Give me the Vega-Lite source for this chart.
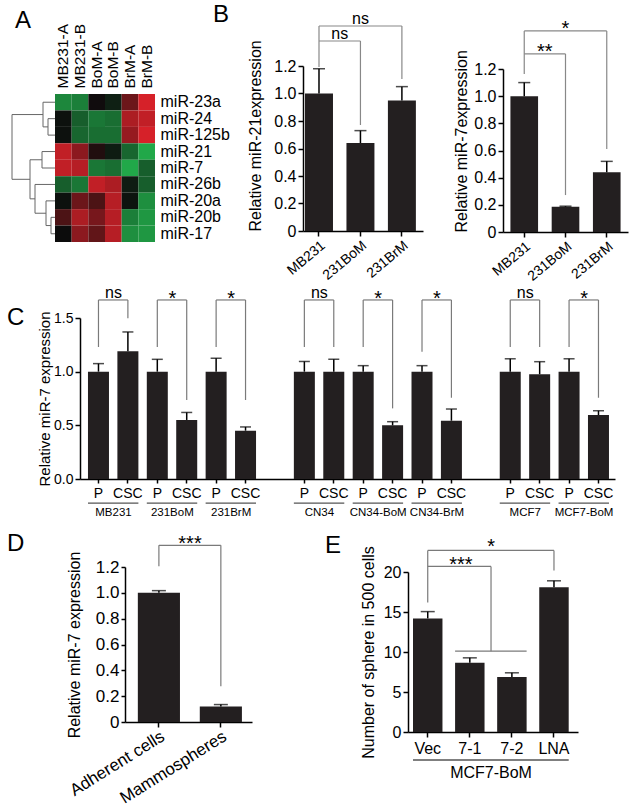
{
"$schema": "https://vega.github.io/schema/vega-lite/v6.json",
"background": "white",
"padding": {"left": 7, "top": 3, "right": 2, "bottom": 2},
"spacing": 0,
"config": {
  "font": "Liberation Sans",
  "view": {"stroke": null},
  "axis": {"grid": false, "domainColor": "#000", "tickColor": "#000", "labelColor": "#000", "titleColor": "#000", "domainWidth": 1.5, "tickWidth": 1.5, "tickSize": 5, "labelFontSize": 15, "titleFontSize": 16, "titleFontWeight": "normal", "labelFont": "Liberation Sans", "titleFont": "Liberation Sans", "labelOverlap": false},
  "title": {"anchor": "start", "frame": "group", "fontSize": 24, "fontWeight": "normal", "baseline": "alphabetic", "color": "#000", "font": "Liberation Sans"},
  "text": {"font": "Liberation Sans", "color": "#000"}
},
"datasets": {
  "dendro": [
    {"h1": 7, "h2": 7, "r1": 1, "r2": 2}, {"h1": 0, "h2": 7, "r1": 1, "r2": 1}, {"h1": 0, "h2": 7, "r1": 2, "r2": 2},
    {"h1": 12, "h2": 12, "r1": 0, "r2": 1.5}, {"h1": 0, "h2": 12, "r1": 0, "r2": 0}, {"h1": 7, "h2": 12, "r1": 1.5, "r2": 1.5},
    {"h1": 13, "h2": 13, "r1": 3, "r2": 4}, {"h1": 0, "h2": 13, "r1": 3, "r2": 3}, {"h1": 0, "h2": 13, "r1": 4, "r2": 4},
    {"h1": 4, "h2": 4, "r1": 7, "r2": 8}, {"h1": 0, "h2": 4, "r1": 7, "r2": 7}, {"h1": 0, "h2": 4, "r1": 8, "r2": 8},
    {"h1": 9, "h2": 9, "r1": 6, "r2": 7.5}, {"h1": 0, "h2": 9, "r1": 6, "r2": 6}, {"h1": 4, "h2": 9, "r1": 7.5, "r2": 7.5},
    {"h1": 20, "h2": 20, "r1": 5, "r2": 6.75}, {"h1": 0, "h2": 20, "r1": 5, "r2": 5}, {"h1": 9, "h2": 20, "r1": 6.75, "r2": 6.75},
    {"h1": 25, "h2": 25, "r1": 3.5, "r2": 5.875}, {"h1": 13, "h2": 25, "r1": 3.5, "r2": 3.5}, {"h1": 20, "h2": 25, "r1": 5.875, "r2": 5.875},
    {"h1": 43, "h2": 43, "r1": 0.75, "r2": 4.6875}, {"h1": 12, "h2": 43, "r1": 0.75, "r2": 0.75}, {"h1": 25, "h2": 43, "r1": 4.6875, "r2": 4.6875}
  ],
  "heat": [
    {"mirna": "miR-23a", "sample": "MB231-A", "z": -0.75}, {"mirna": "miR-23a", "sample": "MB231-B", "z": -0.7}, {"mirna": "miR-23a", "sample": "BoM-A", "z": 0.02}, {"mirna": "miR-23a", "sample": "BoM-B", "z": -0.12}, {"mirna": "miR-23a", "sample": "BrM-A", "z": 0.45}, {"mirna": "miR-23a", "sample": "BrM-B", "z": 0.95},
    {"mirna": "miR-24", "sample": "MB231-A", "z": -0.03}, {"mirna": "miR-24", "sample": "MB231-B", "z": -0.5}, {"mirna": "miR-24", "sample": "BoM-A", "z": -0.65}, {"mirna": "miR-24", "sample": "BoM-B", "z": -0.6}, {"mirna": "miR-24", "sample": "BrM-A", "z": 0.75}, {"mirna": "miR-24", "sample": "BrM-B", "z": 0.85},
    {"mirna": "miR-125b", "sample": "MB231-A", "z": -0.03}, {"mirna": "miR-125b", "sample": "MB231-B", "z": -0.55}, {"mirna": "miR-125b", "sample": "BoM-A", "z": -0.6}, {"mirna": "miR-125b", "sample": "BoM-B", "z": -0.6}, {"mirna": "miR-125b", "sample": "BrM-A", "z": 0.65}, {"mirna": "miR-125b", "sample": "BrM-B", "z": 0.95},
    {"mirna": "miR-21", "sample": "MB231-A", "z": 0.85}, {"mirna": "miR-21", "sample": "MB231-B", "z": 0.6}, {"mirna": "miR-21", "sample": "BoM-A", "z": 0.1}, {"mirna": "miR-21", "sample": "BoM-B", "z": -0.1}, {"mirna": "miR-21", "sample": "BrM-A", "z": -0.55}, {"mirna": "miR-21", "sample": "BrM-B", "z": -0.95},
    {"mirna": "miR-7", "sample": "MB231-A", "z": 0.85}, {"mirna": "miR-7", "sample": "MB231-B", "z": 0.8}, {"mirna": "miR-7", "sample": "BoM-A", "z": -0.65}, {"mirna": "miR-7", "sample": "BoM-B", "z": -0.6}, {"mirna": "miR-7", "sample": "BrM-A", "z": -0.95}, {"mirna": "miR-7", "sample": "BrM-B", "z": -0.5},
    {"mirna": "miR-26b", "sample": "MB231-A", "z": -0.5}, {"mirna": "miR-26b", "sample": "MB231-B", "z": -0.65}, {"mirna": "miR-26b", "sample": "BoM-A", "z": 0.85}, {"mirna": "miR-26b", "sample": "BoM-B", "z": 0.75}, {"mirna": "miR-26b", "sample": "BrM-A", "z": -0.1}, {"mirna": "miR-26b", "sample": "BrM-B", "z": -0.5},
    {"mirna": "miR-20a", "sample": "MB231-A", "z": -0.03}, {"mirna": "miR-20a", "sample": "MB231-B", "z": 0.45}, {"mirna": "miR-20a", "sample": "BoM-A", "z": 0.3}, {"mirna": "miR-20a", "sample": "BoM-B", "z": 0.8}, {"mirna": "miR-20a", "sample": "BrM-A", "z": -0.05}, {"mirna": "miR-20a", "sample": "BrM-B", "z": -0.8},
    {"mirna": "miR-20b", "sample": "MB231-A", "z": 0.3}, {"mirna": "miR-20b", "sample": "MB231-B", "z": 0.75}, {"mirna": "miR-20b", "sample": "BoM-A", "z": 0.5}, {"mirna": "miR-20b", "sample": "BoM-B", "z": 0.8}, {"mirna": "miR-20b", "sample": "BrM-A", "z": -0.7}, {"mirna": "miR-20b", "sample": "BrM-B", "z": -0.85},
    {"mirna": "miR-17", "sample": "MB231-A", "z": 0.0}, {"mirna": "miR-17", "sample": "MB231-B", "z": 0.6}, {"mirna": "miR-17", "sample": "BoM-A", "z": 0.4}, {"mirna": "miR-17", "sample": "BoM-B", "z": 0.8}, {"mirna": "miR-17", "sample": "BrM-A", "z": -0.8}, {"mirna": "miR-17", "sample": "BrM-B", "z": -0.85}
  ],
  "cbars": [
    {"slot": "MB231|P", "value": 1.0, "err": 1.075}, {"slot": "MB231|CSC", "value": 1.19, "err": 1.37},
    {"slot": "231BoM|P", "value": 1.0, "err": 1.115}, {"slot": "231BoM|CSC", "value": 0.55, "err": 0.62},
    {"slot": "231BrM|P", "value": 1.0, "err": 1.125}, {"slot": "231BrM|CSC", "value": 0.45, "err": 0.485},
    {"slot": "CN34|P", "value": 1.0, "err": 1.095}, {"slot": "CN34|CSC", "value": 1.0, "err": 1.115},
    {"slot": "CN34-BoM|P", "value": 1.0, "err": 1.056}, {"slot": "CN34-BoM|CSC", "value": 0.5, "err": 0.534},
    {"slot": "CN34-BrM|P", "value": 1.0, "err": 1.056}, {"slot": "CN34-BrM|CSC", "value": 0.543, "err": 0.652},
    {"slot": "MCF7|P", "value": 1.0, "err": 1.12}, {"slot": "MCF7|CSC", "value": 0.976, "err": 1.093},
    {"slot": "MCF7-BoM|P", "value": 1.0, "err": 1.12}, {"slot": "MCF7-BoM|CSC", "value": 0.596, "err": 0.636}
  ],
  "cbr": [
    {"g": "MB231", "p": "MB231|P", "c": "MB231|CSC", "label": "ns", "top": 1.668, "lp": 1.23, "rc": 1.497},
    {"g": "231BoM", "p": "231BoM|P", "c": "231BoM|CSC", "label": "*", "top": 1.668, "lp": 1.23, "rc": 0.736},
    {"g": "231BrM", "p": "231BrM|P", "c": "231BrM|CSC", "label": "*", "top": 1.668, "lp": 1.23, "rc": 0.736},
    {"g": "CN34", "p": "CN34|P", "c": "CN34|CSC", "label": "ns", "top": 1.668, "lp": 1.23, "rc": 1.23},
    {"g": "CN34-BoM", "p": "CN34-BoM|P", "c": "CN34-BoM|CSC", "label": "*", "top": 1.668, "lp": 1.23, "rc": 0.658},
    {"g": "CN34-BrM", "p": "CN34-BrM|P", "c": "CN34-BrM|CSC", "label": "*", "top": 1.668, "lp": 1.186, "rc": 0.757},
    {"g": "MCF7", "p": "MCF7|P", "c": "MCF7|CSC", "label": "ns", "top": 1.668, "lp": 1.23, "rc": 1.23},
    {"g": "MCF7-BoM", "p": "MCF7-BoM|P", "c": "MCF7-BoM|CSC", "label": "*", "top": 1.668, "lp": 1.23, "rc": 0.757}
  ]
},
"vconcat": [
 {
  "hconcat": [
  {
    "width": 43, "height": 148,
    "title": {"text": "A", "dx": 3, "offset": 61},
    "data": {"name": "dendro"},
    "mark": {"type": "rule", "color": "#666666", "strokeWidth": 1},
    "encoding": {
      "x": {"field": "h1", "type": "quantitative", "scale": {"domain": [0, 43], "reverse": true, "nice": false, "zero": false}, "axis": null},
      "x2": {"field": "h2"},
      "y": {"field": "r1", "type": "quantitative", "scale": {"domain": [-0.5, 8.5], "reverse": true, "nice": false, "zero": false}, "axis": null},
      "y2": {"field": "r2"}
    }
  },
  {
    "width": 100, "height": 148,
    "data": {"name": "heat"},
    "mark": "rect",
    "encoding": {
      "x": {"field": "sample", "type": "nominal", "sort": ["MB231-A", "MB231-B", "BoM-A", "BoM-B", "BrM-A", "BrM-B"], "scale": {"paddingInner": 0, "paddingOuter": 0},
            "axis": {"orient": "top", "title": null, "labelAngle": -90, "labelAlign": "left", "labelBaseline": "middle", "domain": false, "ticks": false, "labelPadding": 6, "labelFontSize": 15.5}},
      "y": {"field": "mirna", "type": "nominal", "sort": ["miR-23a", "miR-24", "miR-125b", "miR-21", "miR-7", "miR-26b", "miR-20a", "miR-20b", "miR-17"], "scale": {"paddingInner": 0, "paddingOuter": 0},
            "axis": {"orient": "right", "title": null, "domain": false, "ticks": false, "labelPadding": 5, "labelFontSize": 16}},
      "color": {"field": "z", "type": "quantitative", "scale": {"domain": [-1, 0, 1], "range": ["#22b04c", "#0c0c0c", "#e1222b"], "interpolate": "rgb"}, "legend": null}
    }
  },
  {"width": 148, "height": 1, "title": {"text": "B", "dx": 58, "offset": 67}, "data": {"values": []}, "mark": "point"},
  {
    "width": 120, "height": 137,
    "data": {"values": [{"cell": "MB231", "value": 1.0, "err": 1.18}, {"cell": "231BoM", "value": 0.64, "err": 0.73}, {"cell": "231BrM", "value": 0.95, "err": 1.05}]},
    "layer": [
      {"mark": {"type": "bar", "color": "#231f20"},
       "encoding": {
         "x": {"field": "cell", "type": "nominal", "scale": {"domain": ["MB231", "231BoM", "231BrM"], "paddingInner": 0.325, "paddingOuter": 0.11, "align": 0.22}, "axis": {"title": null, "labelAngle": -40, "labelPadding": 2, "labelFontSize": 14}},
         "y": {"field": "value", "type": "quantitative", "scale": {"domain": [0, 1.2], "range": [137, -28], "nice": false},
               "axis": {"title": "Relative miR-21expression", "values": [0, 0.2, 0.4, 0.6, 0.8, 1, 1.2], "tickCount": 20, "labelExpr": "datum.value == 0 ? '0' : format(datum.value, '.1f')", "labelOverlap": false, "titleAnchor": "start", "titlePadding": 10, "labelFontSize": 16}}}},
      {"mark": {"type": "rule", "color": "#000", "strokeWidth": 1.5},
       "encoding": {"x": {"field": "cell", "type": "nominal"}, "y": {"field": "value", "type": "quantitative"}, "y2": {"field": "err"}}},
      {"mark": {"type": "tick", "color": "#000", "thickness": 1.5, "size": 12},
       "encoding": {"x": {"field": "cell", "type": "nominal"}, "y": {"field": "err", "type": "quantitative"}}},
      {"data": {"values": [{"cell": "MB231", "lo": 1.193, "hi": 1.491}, {"cell": "231BoM", "lo": 0.771, "hi": 1.382}, {"cell": "231BrM", "lo": 1.105, "hi": 1.491}]},
       "mark": {"type": "rule", "color": "#888888", "strokeWidth": 1.2},
       "encoding": {"x": {"field": "cell", "type": "nominal"}, "y": {"field": "lo", "type": "quantitative"}, "y2": {"field": "hi"}}},
      {"data": {"values": [{"cell": "MB231", "to": "231BoM", "hi": 1.382}, {"cell": "MB231", "to": "231BrM", "hi": 1.491}]},
       "mark": {"type": "rule", "color": "#888888", "strokeWidth": 1.2},
       "encoding": {"x": {"field": "cell", "type": "nominal", "bandPosition": 0.5}, "x2": {"field": "to", "bandPosition": 0.5}, "y": {"field": "hi", "type": "quantitative"}}},
      {"data": {"values": [{"cell": "MB231", "hi": 1.382, "label": "ns"}]},
       "mark": {"type": "text", "fontSize": 16, "dy": -2, "baseline": "alphabetic"},
       "encoding": {"x": {"field": "cell", "type": "nominal", "bandPosition": 1.24}, "y": {"field": "hi", "type": "quantitative"}, "text": {"field": "label"}}},
      {"data": {"values": [{"cell": "231BoM", "hi": 1.491, "label": "ns"}]},
       "mark": {"type": "text", "fontSize": 16, "dy": -2, "baseline": "alphabetic"},
       "encoding": {"x": {"field": "cell", "type": "nominal", "bandPosition": 0.5}, "y": {"field": "hi", "type": "quantitative"}, "text": {"field": "label"}}}
    ]
  },
  {"width": 80, "height": 1, "data": {"values": []}, "mark": "point"},
  {
    "width": 125, "height": 138,
    "data": {"values": [{"cell": "MB231", "value": 1.0, "err": 1.1}, {"cell": "231BoM", "value": 0.185, "err": 0.19}, {"cell": "231BrM", "value": 0.44, "err": 0.52}]},
    "layer": [
      {"mark": {"type": "bar", "color": "#231f20"},
       "encoding": {
         "x": {"field": "cell", "type": "nominal", "scale": {"domain": ["MB231", "231BoM", "231BrM"], "paddingInner": 0.33, "paddingOuter": 0.18, "align": 0.5}, "axis": {"title": null, "labelAngle": -40, "labelPadding": 2, "labelFontSize": 14}},
         "y": {"field": "value", "type": "quantitative", "scale": {"domain": [0, 1.2], "range": [138, -25], "nice": false},
               "axis": {"title": "Relative miR-7expression", "values": [0, 0.2, 0.4, 0.6, 0.8, 1, 1.2], "tickCount": 20, "labelExpr": "datum.value == 0 ? '0' : format(datum.value, '.1f')", "labelOverlap": false, "titleAnchor": "start", "titlePadding": 4, "labelFontSize": 16}}}},
      {"mark": {"type": "rule", "color": "#000", "strokeWidth": 1.5},
       "encoding": {"x": {"field": "cell", "type": "nominal"}, "y": {"field": "value", "type": "quantitative"}, "y2": {"field": "err"}}},
      {"mark": {"type": "tick", "color": "#000", "thickness": 1.5, "size": 12},
       "encoding": {"x": {"field": "cell", "type": "nominal"}, "y": {"field": "err", "type": "quantitative"}}},
      {"data": {"values": [{"cell": "MB231", "lo": 1.163, "hi": 1.48}, {"cell": "231BoM", "lo": 0.272, "hi": 1.311}, {"cell": "231BrM", "lo": 0.611, "hi": 1.48}]},
       "mark": {"type": "rule", "color": "#888888", "strokeWidth": 1.2},
       "encoding": {"x": {"field": "cell", "type": "nominal"}, "y": {"field": "lo", "type": "quantitative"}, "y2": {"field": "hi"}}},
      {"data": {"values": [{"cell": "MB231", "to": "231BoM", "hi": 1.311}, {"cell": "MB231", "to": "231BrM", "hi": 1.48}]},
       "mark": {"type": "rule", "color": "#888888", "strokeWidth": 1.2},
       "encoding": {"x": {"field": "cell", "type": "nominal", "bandPosition": 0.5}, "x2": {"field": "to", "bandPosition": 0.5}, "y": {"field": "hi", "type": "quantitative"}}},
      {"data": {"values": [{"cell": "MB231", "hi": 1.311, "label": "**"}]},
       "mark": {"type": "text", "fontSize": 20, "dy": 4, "baseline": "alphabetic"},
       "encoding": {"x": {"field": "cell", "type": "nominal", "bandPosition": 1.245}, "y": {"field": "hi", "type": "quantitative"}, "text": {"field": "label"}}},
      {"data": {"values": [{"cell": "231BoM", "hi": 1.48, "label": "*"}]},
       "mark": {"type": "text", "fontSize": 20, "dy": 4, "baseline": "alphabetic"},
       "encoding": {"x": {"field": "cell", "type": "nominal", "bandPosition": 0.5}, "y": {"field": "hi", "type": "quantitative"}, "text": {"field": "label"}}}
    ]
  }
  ],
  "spacing": 0, "bounds": "flush"
 },
 {
  "vconcat": [
   {
    "hconcat": [
    {"width": 68, "height": 1, "title": {"text": "C", "dx": -5, "offset": -12}, "data": {"values": []}, "mark": "point"},
    {
    "width": 535, "height": 161,
    "data": {"name": "cbars"},
    "layer": [
      {"mark": {"type": "bar", "color": "#231f20"},
       "encoding": {
         "x": {"field": "slot", "type": "nominal",
               "scale": {"domain": ["MB231|P", "MB231|CSC", "231BoM|P", "231BoM|CSC", "231BrM|P", "231BrM|CSC", "gap1", "CN34|P", "CN34|CSC", "CN34-BoM|P", "CN34-BoM|CSC", "CN34-BrM|P", "CN34-BrM|CSC", "gap2", "MCF7|P", "MCF7|CSC", "MCF7-BoM|P", "MCF7-BoM|CSC"], "paddingInner": 0.286, "paddingOuter": 0.238, "align": 0.57},
               "axis": {"title": null, "values": ["MB231|P", "MB231|CSC", "231BoM|P", "231BoM|CSC", "231BrM|P", "231BrM|CSC", "CN34|P", "CN34|CSC", "CN34-BoM|P", "CN34-BoM|CSC", "CN34-BrM|P", "CN34-BrM|CSC", "MCF7|P", "MCF7|CSC", "MCF7-BoM|P", "MCF7-BoM|CSC"],
                        "labelExpr": "split(datum.value, '|')[1]", "labelAngle": 0, "labelFontSize": 14, "tickSize": 4, "labelPadding": 3}},
         "y": {"field": "value", "type": "quantitative", "scale": {"domain": [0, 1.5], "nice": false},
               "axis": {"title": "Relative miR-7 expression", "values": [0, 0.5, 1, 1.5], "tickCount": 20, "format": ".1f", "labelOverlap": false, "labelFontSize": 14, "titleFontSize": 15, "titlePadding": 1}}}},
      {"mark": {"type": "rule", "color": "#000", "strokeWidth": 1.5},
       "encoding": {"x": {"field": "slot", "type": "nominal"}, "y": {"field": "value", "type": "quantitative"}, "y2": {"field": "err"}}},
      {"mark": {"type": "tick", "color": "#000", "thickness": 1.5, "size": 11},
       "encoding": {"x": {"field": "slot", "type": "nominal"}, "y": {"field": "err", "type": "quantitative"}}},
      {"data": {"name": "cbr"}, "mark": {"type": "rule", "color": "#7a7a7a", "strokeWidth": 1.2},
       "encoding": {"x": {"field": "p", "type": "nominal"}, "y": {"field": "lp", "type": "quantitative"}, "y2": {"field": "top"}}},
      {"data": {"name": "cbr"}, "mark": {"type": "rule", "color": "#7a7a7a", "strokeWidth": 1.2},
       "encoding": {"x": {"field": "c", "type": "nominal"}, "y": {"field": "rc", "type": "quantitative"}, "y2": {"field": "top"}}},
      {"data": {"name": "cbr"}, "mark": {"type": "rule", "color": "#7a7a7a", "strokeWidth": 1.2},
       "encoding": {"x": {"field": "p", "type": "nominal", "bandPosition": 0.5}, "x2": {"field": "c", "bandPosition": 0.5}, "y": {"field": "top", "type": "quantitative"}}},
      {"data": {"name": "cbr"}, "transform": [{"filter": "datum.label == 'ns'"}],
       "mark": {"type": "text", "fontSize": 16, "dy": -2, "baseline": "alphabetic"},
       "encoding": {"x": {"field": "p", "type": "nominal", "bandPosition": 1.214}, "y": {"field": "top", "type": "quantitative"}, "text": {"field": "label"}}},
      {"data": {"name": "cbr"}, "transform": [{"filter": "datum.label != 'ns'"}],
       "mark": {"type": "text", "fontSize": 20, "dy": 5, "baseline": "alphabetic"},
       "encoding": {"x": {"field": "p", "type": "nominal", "bandPosition": 1.214}, "y": {"field": "top", "type": "quantitative"}, "text": {"field": "label"}}},
      {"data": {"name": "cbr"}, "mark": {"type": "rule", "color": "#555555", "strokeWidth": 1.2},
       "encoding": {"x": {"field": "p", "type": "nominal", "bandPosition": 0}, "x2": {"field": "c", "bandPosition": 1}, "y": {"datum": -0.224}}},
      {"data": {"name": "cbr"}, "mark": {"type": "text", "fontSize": 11.5, "baseline": "top"},
       "encoding": {"x": {"field": "p", "type": "nominal", "bandPosition": 1.214}, "y": {"datum": -0.26}, "text": {"field": "g"}}}
    ]
    }
    ],
    "spacing": 0, "bounds": "flush"
   },
   {
    "hconcat": [
    {"width": 113, "height": 1, "title": {"text": "D", "dx": -5, "offset": 2}, "data": {"values": []}, "mark": "point"},
    {
    "width": 127, "height": 164,
    "data": {"values": [{"cell": "Adherent cells", "value": 1.0, "err": 1.017}, {"cell": "Mammospheres", "value": 0.12, "err": 0.135}]},
    "layer": [
      {"mark": {"type": "bar", "color": "#231f20"},
       "encoding": {
         "x": {"field": "cell", "type": "nominal", "scale": {"domain": ["Adherent cells", "Mammospheres"], "paddingInner": 0.32, "paddingOuter": 0.185, "align": 0.56}, "axis": {"title": null, "labelAngle": -32, "labelPadding": 1, "labelFontSize": 17}},
         "y": {"field": "value", "type": "quantitative", "scale": {"domain": [0, 1.2], "range": [164, 9], "nice": false},
               "axis": {"title": "Relative miR-7 expression", "values": [0, 0.2, 0.4, 0.6, 0.8, 1, 1.2], "tickCount": 20, "labelExpr": "datum.value == 0 ? '0' : format(datum.value, '.1f')", "labelOverlap": false, "titlePadding": 13, "labelFontSize": 17, "tickSize": 4}}}},
      {"mark": {"type": "rule", "color": "#000", "strokeWidth": 1.5},
       "encoding": {"x": {"field": "cell", "type": "nominal"}, "y": {"field": "value", "type": "quantitative"}, "y2": {"field": "err"}}},
      {"mark": {"type": "tick", "color": "#000", "thickness": 1.5, "size": 14},
       "encoding": {"x": {"field": "cell", "type": "nominal"}, "y": {"field": "err", "type": "quantitative"}}},
      {"data": {"values": [{"cell": "Adherent cells", "lo": 1.205, "hi": 1.368}, {"cell": "Mammospheres", "lo": 0.276, "hi": 1.368}]},
       "mark": {"type": "rule", "color": "#7a7a7a", "strokeWidth": 1.2},
       "encoding": {"x": {"field": "cell", "type": "nominal"}, "y": {"field": "lo", "type": "quantitative"}, "y2": {"field": "hi"}}},
      {"data": {"values": [{"cell": "Adherent cells", "to": "Mammospheres", "hi": 1.368}]},
       "mark": {"type": "rule", "color": "#7a7a7a", "strokeWidth": 1.2},
       "encoding": {"x": {"field": "cell", "type": "nominal", "bandPosition": 0.5}, "x2": {"field": "to", "bandPosition": 0.5}, "y": {"field": "hi", "type": "quantitative"}}},
      {"data": {"values": [{"cell": "Adherent cells", "hi": 1.368, "label": "***"}]},
       "mark": {"type": "text", "fontSize": 20, "dy": 5, "baseline": "alphabetic"},
       "encoding": {"x": {"field": "cell", "type": "nominal", "bandPosition": 1.238}, "y": {"field": "hi", "type": "quantitative"}, "text": {"field": "label"}}}
    ]
    },
    {"width": 156, "height": 1, "title": {"text": "E", "dx": 73, "offset": 0}, "data": {"values": []}, "mark": "point"},
    {
    "width": 170, "height": 174,
    "data": {"values": [{"cell": "Vec", "value": 14.2, "err": 15.05}, {"cell": "7-1", "value": 8.65, "err": 9.27}, {"cell": "7-2", "value": 6.86, "err": 7.4}, {"cell": "LNA", "value": 18.1, "err": 18.9}]},
    "layer": [
      {"mark": {"type": "bar", "color": "#231f20"},
       "encoding": {
         "x": {"field": "cell", "type": "nominal", "scale": {"domain": ["Vec", "7-1", "7-2", "LNA"], "paddingInner": 0.3, "paddingOuter": 0.17, "align": 0.35}, "axis": {"title": null, "labelAngle": 0, "labelPadding": 3, "labelFontSize": 16}},
         "y": {"field": "value", "type": "quantitative", "scale": {"domain": [0, 20], "range": [174, 14], "nice": false},
               "axis": {"title": "Number of sphere in 500 cells", "values": [0, 5, 10, 15, 20], "tickCount": 20, "labelOverlap": false, "titlePadding": 7, "labelFontSize": 16}}}},
      {"mark": {"type": "rule", "color": "#000", "strokeWidth": 1.5},
       "encoding": {"x": {"field": "cell", "type": "nominal"}, "y": {"field": "value", "type": "quantitative"}, "y2": {"field": "err"}}},
      {"mark": {"type": "tick", "color": "#000", "thickness": 1.5, "size": 14},
       "encoding": {"x": {"field": "cell", "type": "nominal"}, "y": {"field": "err", "type": "quantitative"}}},
      {"data": {"values": [{"cell": "Vec", "lo": 16.2, "hi": 22.7}, {"cell": "LNA", "lo": 20.2, "hi": 22.7}]},
       "mark": {"type": "rule", "color": "#7a7a7a", "strokeWidth": 1.2},
       "encoding": {"x": {"field": "cell", "type": "nominal"}, "y": {"field": "lo", "type": "quantitative"}, "y2": {"field": "hi"}}},
      {"data": {"values": [{"cell": "Vec", "to": "LNA", "hi": 22.7}]},
       "mark": {"type": "rule", "color": "#7a7a7a", "strokeWidth": 1.2},
       "encoding": {"x": {"field": "cell", "type": "nominal", "bandPosition": 0.5}, "x2": {"field": "to", "bandPosition": 0.5}, "y": {"field": "hi", "type": "quantitative"}}},
      {"data": {"values": [{"cell": "Vec", "to": "7-1", "hi": 20.7}]},
       "mark": {"type": "rule", "color": "#7a7a7a", "strokeWidth": 1.2},
       "encoding": {"x": {"field": "cell", "type": "nominal", "bandPosition": 0.5}, "x2": {"field": "to", "bandPosition": 1.22}, "y": {"field": "hi", "type": "quantitative"}}},
      {"data": {"values": [{"cell": "7-1", "lo": 10.1, "hi": 20.7}]},
       "mark": {"type": "rule", "color": "#7a7a7a", "strokeWidth": 1.2},
       "encoding": {"x": {"field": "cell", "type": "nominal", "bandPosition": 1.22}, "y": {"field": "lo", "type": "quantitative"}, "y2": {"field": "hi"}}},
      {"data": {"values": [{"cell": "7-1", "to": "7-2", "lo": 10.1}]},
       "mark": {"type": "rule", "color": "#7a7a7a", "strokeWidth": 1.2},
       "encoding": {"x": {"field": "cell", "type": "nominal", "bandPosition": 0}, "x2": {"field": "to", "bandPosition": 1}, "y": {"field": "lo", "type": "quantitative"}}},
      {"data": {"values": [{"cell": "7-1", "hi": 22.7, "label": "*"}]},
       "mark": {"type": "text", "fontSize": 20, "dy": 3, "baseline": "alphabetic"},
       "encoding": {"x": {"field": "cell", "type": "nominal", "bandPosition": 1.22}, "y": {"field": "hi", "type": "quantitative"}, "text": {"field": "label"}}},
      {"data": {"values": [{"cell": "7-1", "hi": 20.7, "label": "***"}]},
       "mark": {"type": "text", "fontSize": 20, "dy": 5, "baseline": "alphabetic"},
       "encoding": {"x": {"field": "cell", "type": "nominal", "bandPosition": 0.2}, "y": {"field": "hi", "type": "quantitative"}, "text": {"field": "label"}}},
      {"data": {"values": [{"cell": "Vec", "to": "LNA"}]},
       "mark": {"type": "rule", "color": "#000", "strokeWidth": 1.2},
       "encoding": {"x": {"field": "cell", "type": "nominal", "bandPosition": 0}, "x2": {"field": "to", "bandPosition": 1}, "y": {"datum": -3.5}}},
      {"data": {"values": [{"cell": "7-1", "label": "MCF7-BoM"}]},
       "mark": {"type": "text", "fontSize": 16, "baseline": "top"},
       "encoding": {"x": {"field": "cell", "type": "nominal", "bandPosition": 1.22}, "y": {"datum": -4.1}, "text": {"field": "label"}}}
    ]
    }
    ],
    "spacing": 0, "bounds": "flush"
   }
  ],
  "spacing": 13
 }
]
}
